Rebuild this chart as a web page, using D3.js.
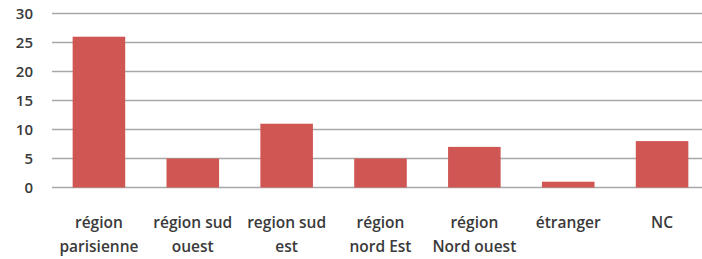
<!DOCTYPE html>
<html>
<head>
<meta charset="utf-8">
<script src="https://cdn.jsdelivr.net/npm/d3@7"></script>
<style>
  body { margin: 0; background: #fff; }
  svg { display: block; }
  text { font-family: "Open Sans", sans-serif; fill: #3a3a3a; font-weight: 600; }
</style>
</head>
<body>
<div id="chart"></div>
<script>
const categories = [
    ['région', 'parisienne'],
    ['région sud', 'ouest'],
    ['region sud', 'est'],
    ['région', 'nord Est'],
    ['région', 'Nord ouest'],
    ['étranger'],
    ['NC'],
];
const values = [26, 5, 11, 5, 7, 1, 8];
const yTicks = [0, 5, 10, 15, 20, 25, 30];

const width = 702;
const height = 259;
const margin = { top: 13.5, right: -7, bottom: 71.5, left: 52 };

const svg = d3.select('#chart')
    .append('svg')
    .attr('width', width)
    .attr('height', height);

const x = d3.scaleBand()
    .domain(d3.range(categories.length))
    .range([margin.left, width - margin.right])
    .paddingInner(0.44)
    .paddingOuter(0.22);

const y = d3.scaleLinear()
    .domain([0, 30])
    .range([height - margin.bottom, margin.top]);

// gridlines
svg.append('g')
    .selectAll('line')
    .data(yTicks)
    .join('line')
    .attr('x1', margin.left)
    .attr('x2', width)
    .attr('y1', (d) => y(d))
    .attr('y2', (d) => y(d))
    .attr('stroke', '#a8a8a8')
    .attr('stroke-width', 1.5);

// y labels
svg.append('g')
    .selectAll('text')
    .data(yTicks)
    .join('text')
    .attr('x', 33)
    .attr('y', (d) => y(d))
    .attr('dy', '0.35em')
    .attr('text-anchor', 'end')
    .style('font-size', '15px')
    .text((d) => d);

// bars
svg.append('g')
    .selectAll('rect')
    .data(values)
    .join('rect')
    .attr('x', (d, i) => x(i))
    .attr('y', (d) => y(d))
    .attr('width', x.bandwidth())
    .attr('height', (d) => y(0) - y(d))
    .attr('fill', '#cf5652');

// x labels
const labels = svg.append('g')
    .selectAll('text')
    .data(categories)
    .join('text')
    .attr('x', (d, i) => x(i) + x.bandwidth() / 2)
    .attr('y', 228)
    .attr('text-anchor', 'middle')
    .style('font-size', '15.5px');

labels.selectAll('tspan')
    .data((d) => d)
    .join('tspan')
    .attr('x', function () { return d3.select(this.parentNode).attr('x'); })
    .attr('dy', (d, i) => (i === 0 ? 0 : 24))
    .text((d) => d);
</script>
</body>
</html>
